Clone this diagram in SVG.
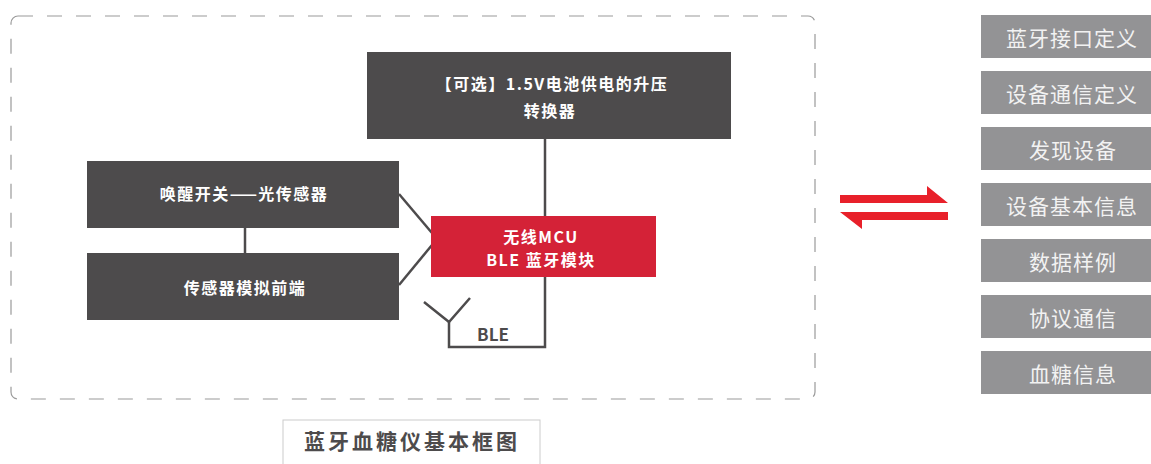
<svg xmlns="http://www.w3.org/2000/svg" width="1151" height="464" viewBox="0 0 1151 464">
<style>
.dk{fill:#4d4b4c}
.red{fill:#d42237}
.wt{fill:#ffffff;font-family:"Noto Sans CJK SC","Noto Sans",sans-serif;font-weight:bold;font-size:16px;letter-spacing:1.5px;text-anchor:middle;dominant-baseline:central}
.side{fill:#939395}
.st{fill:#f2f2f2;font-family:"Noto Sans CJK SC","Noto Sans",sans-serif;font-size:21px;letter-spacing:1px;text-anchor:middle;dominant-baseline:central}
.ln{stroke:#4d4b4c;stroke-width:2.5;fill:none}
</style>
<rect x="11" y="16" width="804" height="383" rx="7" fill="none" stroke="#9a9a9a" stroke-width="1.2" stroke-dasharray="15 14"/>
<g id="connectors">
<line class="ln" x1="545" y1="139" x2="545" y2="216"/>
<polyline class="ln" points="545,277 545,347 449,347 449,322"/>
<polyline class="ln" points="424,302 449,322 470,298"/>
<line class="ln" x1="245" y1="228" x2="245" y2="253"/>
<line class="ln" x1="399" y1="194" x2="432" y2="233"/>
<line class="ln" x1="432" y1="245" x2="399" y2="285"/>
</g>
<g id="boost"><rect class="dk" x="367" y="52" width="364" height="87"/>
<text class="wt" x="552" y="83">【可选】1.5V电池供电的升压</text>
<text class="wt" x="550" y="110">转换器</text></g>
<g id="wake"><rect class="dk" x="87" y="161" width="312" height="67"/>
<text class="wt" x="244" y="193">唤醒开关——光传感器</text></g>
<g id="afe"><rect class="dk" x="87" y="253" width="312" height="67"/>
<text class="wt" x="245" y="287">传感器模拟前端</text></g>
<g id="mcu"><rect class="red" x="431" y="216" width="225" height="61"/>
<text class="wt" x="541" y="236">无线MCU</text>
<text class="wt" x="541" y="259">BLE 蓝牙模块</text></g>
<g id="ble"><text x="493" y="333" fill="#4d4b4c" font-family="'Noto Sans CJK SC','Noto Sans',sans-serif" font-weight="bold" font-size="17" text-anchor="middle" dominant-baseline="central">BLE</text></g>
<g id="arrows" fill="#e8202a">
<polygon points="840,195 927,195 927,186 948,203 840,203"/>
<polygon points="840,212 948,212 948,220 862,220 862,229"/>
</g>
<g id="s1"><rect class="side" x="981" y="15" width="170" height="43"/><text class="st" x="1072" y="37">蓝牙接口定义</text></g>
<g id="s2"><rect class="side" x="981" y="71" width="170" height="43"/><text class="st" x="1072" y="93">设备通信定义</text></g>
<g id="s3"><rect class="side" x="981" y="127" width="170" height="43"/><text class="st" x="1073" y="149">发现设备</text></g>
<g id="s4"><rect class="side" x="981" y="183" width="170" height="43"/><text class="st" x="1072" y="205">设备基本信息</text></g>
<g id="s5"><rect class="side" x="981" y="239" width="170" height="43"/><text class="st" x="1073" y="261">数据样例</text></g>
<g id="s6"><rect class="side" x="981" y="295" width="170" height="43"/><text class="st" x="1073" y="317">协议通信</text></g>
<g id="s7"><rect class="side" x="981" y="351" width="170" height="43"/><text class="st" x="1073" y="373">血糖信息</text></g>
<g id="title"><rect x="283" y="420" width="257" height="50" fill="#fff" stroke="#cccccc" stroke-width="1"/>
<text x="412" y="440" fill="#4d4b4c" font-family="'Noto Sans CJK SC',sans-serif" font-weight="bold" font-size="21" letter-spacing="3" text-anchor="middle" dominant-baseline="central">蓝牙血糖仪基本框图</text></g>
</svg>
